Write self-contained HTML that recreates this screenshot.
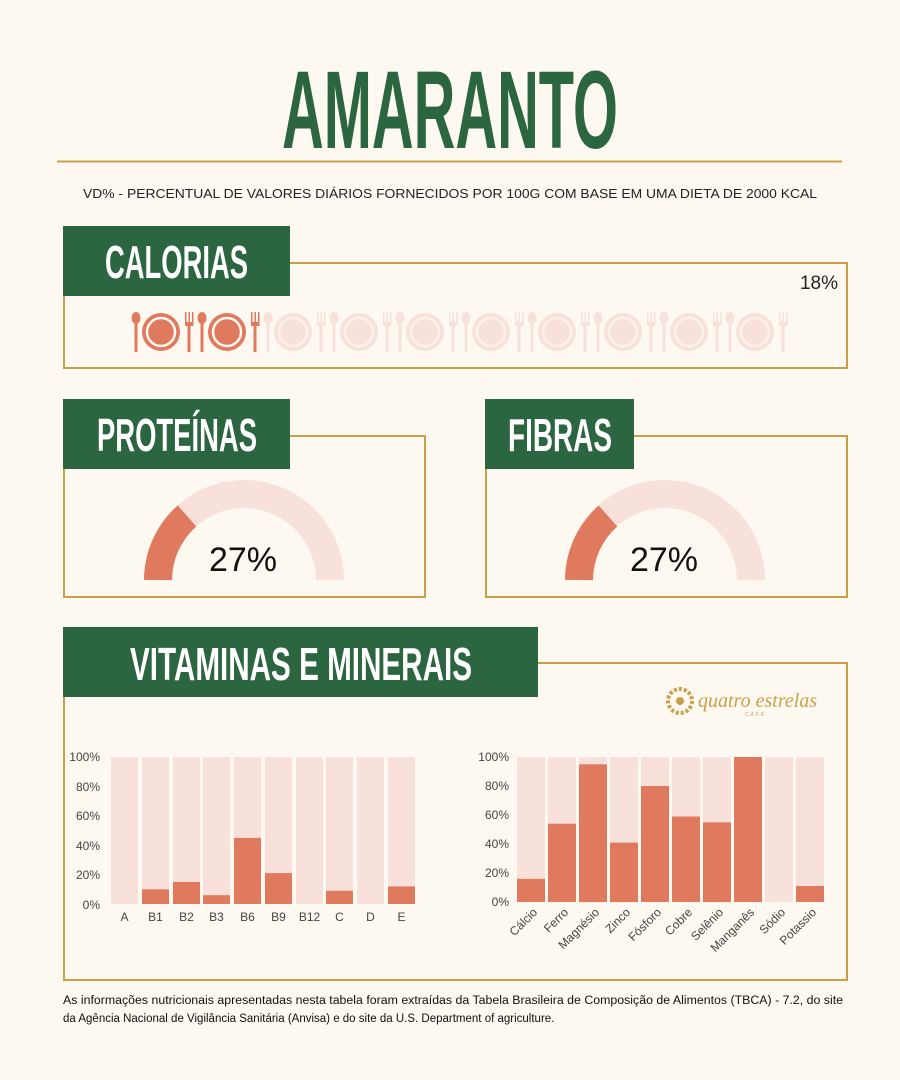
<!DOCTYPE html>
<html><head><meta charset="utf-8"><style>
html,body{margin:0;padding:0;background:#fdf9f0;}
svg{display:block;}
text{font-family:"Liberation Sans",sans-serif;}
.h{font-family:"Liberation Sans Narrow","Liberation Sans",sans-serif;font-weight:bold;fill:#fff;}
.ax{font-size:12px;fill:#444;}
</style></head><body>
<svg width="900" height="1080" viewBox="0 0 900 1080" xmlns="http://www.w3.org/2000/svg">
<rect width="900" height="1080" fill="#fdf9f0"/>
<text x="282" y="148" class="h" style="fill:#2b6641;font-size:110px" textLength="336" lengthAdjust="spacingAndGlyphs">AMARANTO</text>
<line x1="57" y1="161.5" x2="842" y2="161.5" stroke="#c9a04a" stroke-width="2"/>
<text x="450" y="198" text-anchor="middle" style="font-size:12.5px;fill:#222" textLength="734" lengthAdjust="spacingAndGlyphs">VD% - PERCENTUAL DE VALORES DIÁRIOS FORNECIDOS POR 100G COM BASE EM UMA DIETA DE 2000 KCAL</text>

<!-- Calorias -->
<rect x="64" y="263" width="783" height="105" fill="none" stroke="#c9a04a" stroke-width="2"/>
<rect x="63" y="226" width="227" height="70" fill="#2b6641"/>
<text x="105" y="278" class="h" style="font-size:46px" textLength="143" lengthAdjust="spacingAndGlyphs">CALORIAS</text>
<text x="838" y="289" text-anchor="end" style="font-size:19px;fill:#222">18%</text>
<defs>
<g id="set">
  <ellipse cx="6" cy="6" rx="4.5" ry="6"/><rect x="4.5" y="8" width="3" height="32"/>
  <circle cx="31" cy="20" r="19"/>
  <rect x="55" y="0" width="1.5" height="12"/><rect x="58.5" y="0" width="1.5" height="12"/><rect x="62" y="0" width="1.5" height="12"/>
  <rect x="55" y="10" width="8.5" height="4"/><rect x="57.5" y="12" width="3" height="28"/>
</g>
</defs>
<g transform="translate(130,312)">
  <g fill="#e07a5f"><use href="#set" x="0"/><use href="#set" x="66"/></g>
  <g fill="#f8e1db"><use href="#set" x="132"/><use href="#set" x="198"/><use href="#set" x="264"/><use href="#set" x="330"/><use href="#set" x="396"/><use href="#set" x="462"/><use href="#set" x="528"/><use href="#set" x="594"/></g>
  <g fill="none" stroke="#fdf9f0" stroke-width="2.5">
    <circle cx="31" cy="20" r="14"/><circle cx="97" cy="20" r="14"/>
  </g>
  <g fill="none" stroke="#fdf9f0" stroke-width="2.5" opacity="0.7">
    <circle cx="163" cy="20" r="14"/><circle cx="229" cy="20" r="14"/><circle cx="295" cy="20" r="14"/><circle cx="361" cy="20" r="14"/><circle cx="427" cy="20" r="14"/><circle cx="493" cy="20" r="14"/><circle cx="559" cy="20" r="14"/><circle cx="625" cy="20" r="14"/>
  </g>
</g>

<!-- Proteinas -->
<rect x="64" y="436" width="361" height="161" fill="none" stroke="#c9a04a" stroke-width="2"/>
<rect x="63" y="399" width="227" height="70" fill="#2b6641"/>
<text x="97" y="451" class="h" style="font-size:46px" textLength="160" lengthAdjust="spacingAndGlyphs">PROTEÍNAS</text>
<path d="M158 580 A86 86 0 0 1 330 580" fill="none" stroke="#f8e1db" stroke-width="28"/>
<path d="M158 580 A86 86 0 0 1 187 516" fill="none" stroke="#e07a5f" stroke-width="28"/>
<text x="243" y="571" text-anchor="middle" style="font-size:34px;fill:#111">27%</text>

<!-- Fibras -->
<rect x="486" y="436" width="361" height="161" fill="none" stroke="#c9a04a" stroke-width="2"/>
<rect x="485" y="399" width="149" height="70" fill="#2b6641"/>
<text x="508" y="451" class="h" style="font-size:46px" textLength="104" lengthAdjust="spacingAndGlyphs">FIBRAS</text>
<path d="M579 580 A86 86 0 0 1 751 580" fill="none" stroke="#f8e1db" stroke-width="28"/>
<path d="M579 580 A86 86 0 0 1 608 516" fill="none" stroke="#e07a5f" stroke-width="28"/>
<text x="664" y="571" text-anchor="middle" style="font-size:34px;fill:#111">27%</text>

<!-- Vitaminas -->
<rect x="64" y="663" width="783" height="317" fill="none" stroke="#c9a04a" stroke-width="2"/>
<rect x="63" y="627" width="475" height="70" fill="#2b6641"/>
<text x="130" y="680" class="h" style="font-size:46px" textLength="342" lengthAdjust="spacingAndGlyphs">VITAMINAS E MINERAIS</text>
<g fill="#c9a04a"><circle cx="680" cy="701" r="12" fill="none" stroke="#c9a04a" stroke-width="4" stroke-dasharray="3 2"/><circle cx="680" cy="701" r="4"/></g>
<text x="698" y="707" style="font-family:'Liberation Serif',serif;font-style:italic;font-size:20px;fill:#c9a04a">quatro estrelas</text>
<text x="745" y="716" style="font-size:5px;fill:#c9a04a;letter-spacing:2px">CAFÉ</text>

<!-- left chart -->
<g class="ax" text-anchor="end">
<text x="100" y="761">100%</text><text x="100" y="791">80%</text><text x="100" y="820">60%</text><text x="100" y="850">40%</text><text x="100" y="879">20%</text><text x="100" y="909">0%</text>
</g>
<g id="lc"></g>
<g fill="#f8e1db">
<rect x="111" y="757" width="27" height="147"/><rect x="142" y="757" width="27" height="147"/><rect x="173" y="757" width="27" height="147"/><rect x="203" y="757" width="27" height="147"/><rect x="234" y="757" width="27" height="147"/><rect x="265" y="757" width="27" height="147"/><rect x="296" y="757" width="27" height="147"/><rect x="326" y="757" width="27" height="147"/><rect x="357" y="757" width="27" height="147"/><rect x="388" y="757" width="27" height="147"/>
</g>
<g fill="#e07a5f">
<rect x="142" y="889.3" width="27" height="14.7"/><rect x="173" y="882" width="27" height="22"/><rect x="203" y="895.2" width="27" height="8.8"/><rect x="234" y="837.9" width="27" height="66.1"/><rect x="265" y="873.1" width="27" height="30.9"/><rect x="326" y="890.8" width="27" height="13.2"/><rect x="388" y="886.4" width="27" height="17.6"/>
</g>
<g class="ax" text-anchor="middle">
<text x="124.5" y="921">A</text><text x="155.5" y="921">B1</text><text x="186.5" y="921">B2</text><text x="216.5" y="921">B3</text><text x="247.5" y="921">B6</text><text x="278.5" y="921">B9</text><text x="309.5" y="921">B12</text><text x="339.5" y="921">C</text><text x="370.5" y="921">D</text><text x="401.5" y="921">E</text>
</g>

<!-- right chart -->
<g class="ax" text-anchor="end">
<text x="509" y="761">100%</text><text x="509" y="790">80%</text><text x="509" y="819">60%</text><text x="509" y="848">40%</text><text x="509" y="877">20%</text><text x="509" y="906">0%</text>
</g>
<g fill="#f8e1db">
<rect x="517" y="757" width="28" height="145"/><rect x="548" y="757" width="28" height="145"/><rect x="579" y="757" width="28" height="145"/><rect x="610" y="757" width="28" height="145"/><rect x="641" y="757" width="28" height="145"/><rect x="672" y="757" width="28" height="145"/><rect x="703" y="757" width="28" height="145"/><rect x="734" y="757" width="28" height="145"/><rect x="765" y="757" width="28" height="145"/><rect x="796" y="757" width="28" height="145"/>
</g>
<g fill="#e07a5f">
<rect x="517" y="878.8" width="28" height="23.2"/><rect x="548" y="823.7" width="28" height="78.3"/><rect x="579" y="764.3" width="28" height="137.8"/><rect x="610" y="842.6" width="28" height="59.5"/><rect x="641" y="786" width="28" height="116"/><rect x="672" y="816.5" width="28" height="85.5"/><rect x="703" y="822.3" width="28" height="79.8"/><rect x="734" y="757" width="28" height="145"/><rect x="796" y="886" width="28" height="16"/>
</g>
<g class="ax" text-anchor="end">
<text transform="translate(538,913) rotate(-45)">Cálcio</text>
<text transform="translate(569,913) rotate(-45)">Ferro</text>
<text transform="translate(600,913) rotate(-45)">Magnésio</text>
<text transform="translate(631,913) rotate(-45)">Zinco</text>
<text transform="translate(662,913) rotate(-45)">Fósforo</text>
<text transform="translate(693,913) rotate(-45)">Cobre</text>
<text transform="translate(724,913) rotate(-45)">Selênio</text>
<text transform="translate(755,913) rotate(-45)">Manganês</text>
<text transform="translate(786,913) rotate(-45)">Sódio</text>
<text transform="translate(817,913) rotate(-45)">Potassio</text>
</g>

<text x="63" y="1004" style="font-size:11.5px;fill:#111" textLength="780" lengthAdjust="spacingAndGlyphs">As informações nutricionais apresentadas nesta tabela foram extraídas da Tabela Brasileira de Composição de Alimentos (TBCA) - 7.2, do site</text>
<text x="63" y="1022" style="font-size:11.5px;fill:#111">da Agência Nacional de Vigilância Sanitária (Anvisa) e do site da U.S. Department of agriculture.</text>
</svg>
</body></html>
